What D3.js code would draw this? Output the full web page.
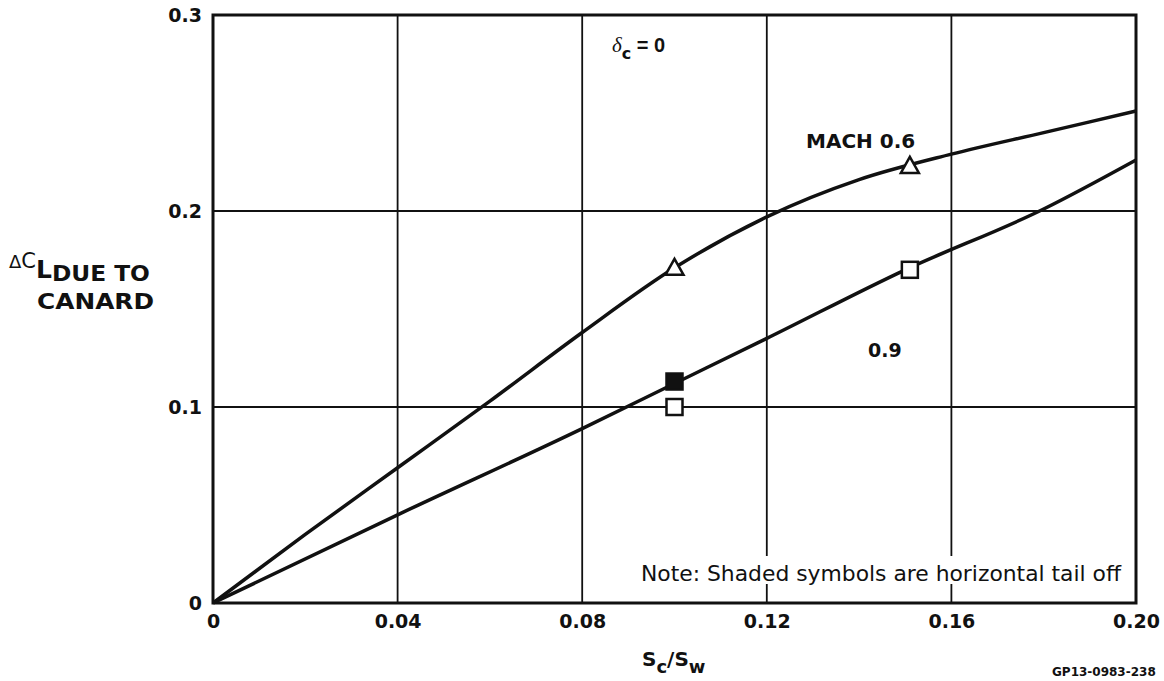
<!DOCTYPE html>
<html>
<head>
<meta charset="utf-8">
<script src="https://cdn.jsdelivr.net/npm/d3@7"></script>
<style>
  body { margin: 0; background: #fff; }
  text { font-family: "DejaVu Sans", "Liberation Sans", sans-serif; font-weight: bold; fill: #111; }
</style>
</head>
<body>
<div id="chart"></div>
<script>
// curve values (S_c/S_w, delta CL)
const xTicks = [0, 0.04, 0.08, 0.12, 0.16, 0.20];
const xTickLabels = ["0", "0.04", "0.08", "0.12", "0.16", "0.20"];
const yTicks = [0, 0.1, 0.2, 0.3];
const yTickLabels = ["0", "0.1", "0.2", "0.3"];

const mach06Curve = [[0, 0], [0.02, 0.035], [0.04, 0.069], [0.06, 0.103], [0.08, 0.138], [0.10, 0.171],
  [0.12, 0.197], [0.14, 0.216], [0.16, 0.229], [0.18, 0.240], [0.20, 0.251]];
const mach09Curve = [[0, 0], [0.04, 0.045], [0.08, 0.089], [0.10, 0.112], [0.12, 0.135],
  [0.15, 0.170], [0.18, 0.201], [0.20, 0.226]];

const triangles = [[0.10, 0.171], [0.151, 0.223]];
const openSquares = [[0.10, 0.100], [0.151, 0.170]];
const filledSquares = [[0.10, 0.113]];

const W = 1164, H = 681;
const margin = { top: 15, right: 28, bottom: 78, left: 213 };
const width = W - margin.left - margin.right,
      height = H - margin.top - margin.bottom;

const svg = d3.select("#chart").append("svg")
  .attr("width", W).attr("height", H);

const g = svg.append("g").attr("transform", `translate(${margin.left},${margin.top})`);

const x = d3.scaleLinear().domain([0, 0.2]).range([0, width]);
const y = d3.scaleLinear().domain([0, 0.3]).range([height, 0]);

// grid
g.selectAll(".vgrid").data(xTicks.slice(1, -1)).enter().append("line")
  .attr("x1", d => x(d)).attr("x2", d => x(d))
  .attr("y1", 0).attr("y2", height)
  .attr("stroke", "#111").attr("stroke-width", 1.8);
g.selectAll(".hgrid").data(yTicks.slice(1, -1)).enter().append("line")
  .attr("y1", d => y(d)).attr("y2", d => y(d))
  .attr("x1", 0).attr("x2", width)
  .attr("stroke", "#111").attr("stroke-width", 1.8);

// note (white band behind the glyphs breaks the grid lines)
g.append("rect")
  .attr("x", 422).attr("y", 541)
  .attr("width", width - 427).attr("height", 28)
  .attr("fill", "#fff");
g.append("text")
  .attr("x", 428).attr("y", 566)
  .attr("font-size", 22).style("font-weight", "normal")
  .attr("textLength", 480).attr("lengthAdjust", "spacingAndGlyphs")
  .text("Note:  Shaded symbols are horizontal tail off");

// frame
g.append("rect").attr("width", width).attr("height", height)
  .attr("fill", "none").attr("stroke", "#111").attr("stroke-width", 3);

// tick labels
const xAxis = d3.axisBottom(x).tickValues(xTicks).tickFormat((d, i) => xTickLabels[i]).tickSize(0).tickPadding(12);
g.append("g").attr("transform", `translate(0,${height})`).call(xAxis)
  .call(a => a.select(".domain").remove())
  .selectAll("text").attr("font-size", 19).attr("font-family", null).attr("fill", null);

const yAxis = d3.axisLeft(y).tickValues(yTicks).tickFormat((d, i) => yTickLabels[i]).tickSize(0).tickPadding(11);
g.append("g").call(yAxis)
  .call(a => a.select(".domain").remove())
  .selectAll("text").attr("font-size", 19).attr("font-family", null).attr("fill", null);

// curves
const line = d3.line().x(d => x(d[0])).y(d => y(d[1])).curve(d3.curveMonotoneX);
[mach06Curve, mach09Curve].forEach(c => {
  g.append("path").datum(c).attr("d", line)
    .attr("fill", "none").attr("stroke", "#111").attr("stroke-width", 3.5);
});

// symbols
const sq = 16;
g.selectAll(".tri").data(triangles).enter().append("path")
  .attr("transform", d => `translate(${x(d[0])},${y(d[1])})`)
  .attr("d", "M0,-9 L9,7 L-9,7 Z")
  .attr("fill", "#fff").attr("stroke", "#111").attr("stroke-width", 2.5);
g.selectAll(".osq").data(openSquares).enter().append("rect")
  .attr("x", d => x(d[0]) - sq / 2).attr("y", d => y(d[1]) - sq / 2)
  .attr("width", sq).attr("height", sq)
  .attr("fill", "#fff").attr("stroke", "#111").attr("stroke-width", 2.5);
g.selectAll(".fsq").data(filledSquares).enter().append("rect")
  .attr("x", d => x(d[0]) - sq / 2).attr("y", d => y(d[1]) - sq / 2)
  .attr("width", sq).attr("height", sq)
  .attr("fill", "#111").attr("stroke", "#111").attr("stroke-width", 2.5);

// annotations
const delta = svg.append("text").attr("x", 612).attr("y", 52).attr("font-size", 19);
delta.append("tspan").style("font-style", "italic").style("font-weight", "normal")
  .attr("font-family", "Liberation Serif").attr("font-size", 21).text("δ");
delta.append("tspan").attr("dy", 7).attr("font-size", 16).text("c");
delta.append("tspan").attr("dy", -7).attr("font-family", "Liberation Sans").attr("font-size", 20).text(" = 0");

svg.append("text").attr("x", 806).attr("y", 148).attr("font-size", 20).text("MACH 0.6");
svg.append("text").attr("x", 868).attr("y", 357).attr("font-size", 19).text("0.9");

// y-axis title
const yt = svg.append("text").attr("x", 9).attr("y", 268).attr("font-size", 21);
yt.append("tspan").style("font-weight", "normal").attr("font-size", 18).text("Δ");
yt.append("tspan").style("font-weight", "normal").text("C");
yt.append("tspan").attr("dy", 10).attr("font-size", 25).text("L");
yt.append("tspan").attr("dy", 3).attr("font-size", 22)
  .attr("textLength", 98).attr("lengthAdjust", "spacingAndGlyphs").text("DUE TO");
svg.append("text").attr("x", 37).attr("y", 309).attr("font-size", 22)
  .attr("textLength", 117).attr("lengthAdjust", "spacingAndGlyphs").text("CANARD");

// x-axis title
const xt = svg.append("text").attr("x", 642).attr("y", 666).attr("font-size", 20);
xt.append("tspan").text("S");
xt.append("tspan").attr("dy", 7).attr("font-size", 18).text("c");
xt.append("tspan").attr("dy", -7).attr("font-size", 20).text("/S");
xt.append("tspan").attr("dy", 7).attr("font-size", 18).text("w");

// figure id at the bottom edge
svg.append("text").attr("x", 1052).attr("y", 676).attr("font-size", 12).text("GP13-0983-238");
</script>
</body>
</html>
